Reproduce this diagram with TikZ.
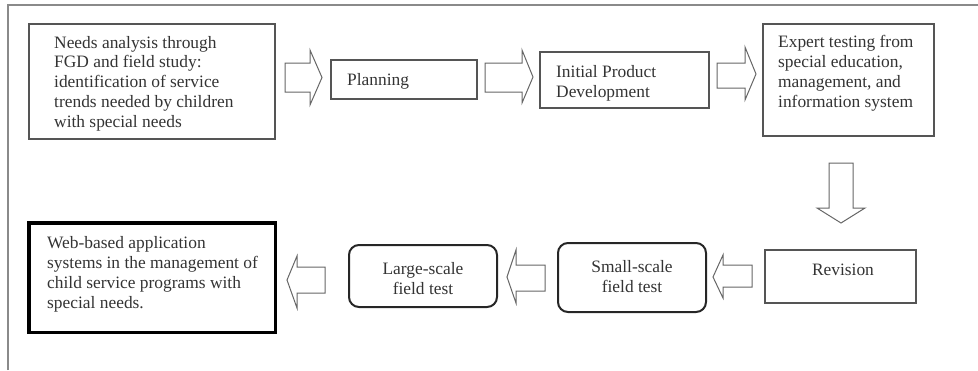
\documentclass[tikz,border=0pt]{standalone}
\usepackage{fontspec}
\setmainfont{Liberation Serif}
\definecolor{txt}{HTML}{333333}
\definecolor{edge}{HTML}{555555}
\definecolor{arr}{HTML}{666666}
\definecolor{frm}{HTML}{8A8A8A}
\begin{document}
\begin{tikzpicture}[x=1pt,y=-1pt,
  box/.style={draw=edge,line width=1.2pt,rectangle,inner sep=0pt,outer sep=0pt},
  rbox/.style={draw=black!85,line width=2pt,rectangle,rounded corners=10pt,inner sep=0pt,outer sep=0pt},
  finalbox/.style={draw=black,line width=3.5pt,rectangle,inner sep=0pt,outer sep=0pt},
  lbl/.style={text=txt,inner sep=0pt,font=\fontsize{17.4}{19.7}\selectfont},
  blk/.style={draw=arr,line width=1pt,fill=white,line join=miter}
]
\useasboundingbox (0,0) rectangle (978,370);
\draw[frm,line width=1.5pt] (8,370) -- (8,5) -- (978,5);

% boxes
\node[box,minimum width=246,minimum height=115] (needs) at (152,81.5) {};
\node[box,minimum width=146,minimum height=39] (plan) at (404,79.5) {};
\node[box,minimum width=169,minimum height=56] (ipd) at (624.5,80) {};
\node[box,minimum width=171,minimum height=112] (expert) at (848.5,80) {};
\node[box,minimum width=151,minimum height=53] (rev) at (840.5,276.5) {};
\node[rbox,minimum width=148,minimum height=69] (small) at (632,277.5) {};
\node[rbox,minimum width=148,minimum height=62] (large) at (423,276) {};
\node[finalbox,minimum width=246.5,minimum height=109.5] (web) at (152,277.5) {};

% texts (base anchor = baseline of the last line)
\node[lbl,anchor=base west,align=left] (tneeds) at (54,127) {Needs analysis through\\FGD and field study:\\identification of service\\trends needed by children\\with special needs};
\node[lbl,anchor=base west] (tplan) at (347,85) {Planning};
\node[lbl,anchor=base west,align=left] (tipd) at (556,97) {Initial Product\\Development};
\node[lbl,anchor=base west,align=left] (texpert) at (778,107) {Expert testing from\\special education,\\management, and\\information system};
\node[lbl,anchor=base] (trev) at (843,275) {Revision};
\node[lbl,anchor=base,align=center] (tsmall) at (632,292) {Small-scale\\field test};
\node[lbl,anchor=base,align=center] (tlarge) at (423,294) {Large-scale\\field test};
\node[lbl,anchor=base west,align=left] (tweb) at (47,308) {Web-based application\\systems in the management of\\child service programs with\\special needs.};

% block arrows
\draw[blk] (285,63) -- (310,63) -- (310,50) -- (322,77.5) -- (310,105) -- (310,92) -- (285,92) -- cycle;
\draw[blk] (485,63) -- (522,63) -- (522,50) -- (533,77) -- (522,103) -- (522,92) -- (485,92) -- cycle;
\draw[blk] (717,63) -- (745,63) -- (745,47) -- (756,74) -- (745,100) -- (745,88) -- (717,88) -- cycle;
\draw[blk] (829,163) -- (853,163) -- (853,208) -- (865,208) -- (841,223) -- (817,208) -- (829,208) -- cycle;
\draw[blk] (752,265) -- (723,265) -- (723,255) -- (713,277) -- (723,298) -- (723,287) -- (752,287) -- cycle;
\draw[blk] (545,265) -- (516,265) -- (516,250) -- (507,277) -- (516,303) -- (516,291) -- (545,291) -- cycle;
\draw[blk] (325,267) -- (297,267) -- (297,256) -- (287,280) -- (297,308) -- (297,293) -- (325,293) -- cycle;
\end{tikzpicture}
\end{document}
